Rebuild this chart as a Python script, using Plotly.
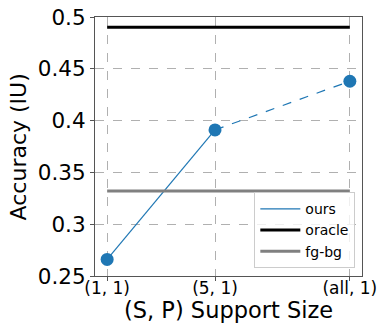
import plotly.graph_objects as go

x_vals = [1, 5, 10]
x_labels = ["(1, 1)", "(5, 1)", "(all, 1)"]
ours = [0.266, 0.391, 0.438]
oracle = 0.490
fgbg = 0.332
y_ticks = [0.25, 0.3, 0.35, 0.4, 0.45, 0.5]
y_labels = ["0.25", "0.3", "0.35", "0.4", "0.45", "0.5"]

blue = "#1f77b4"
fig = go.Figure()
fig.add_trace(go.Scatter(x=x_vals[:2], y=ours[:2], mode="lines", line=dict(color=blue, width=1.2), name="ours"))
fig.add_trace(go.Scatter(x=x_vals[1:], y=ours[1:], mode="lines", line=dict(color=blue, width=1.2, dash="dash"), showlegend=False))
fig.add_trace(go.Scatter(x=[x_vals[0], x_vals[-1]], y=[oracle, oracle], mode="lines", line=dict(color="black", width=3), name="oracle"))
fig.add_trace(go.Scatter(x=[x_vals[0], x_vals[-1]], y=[fgbg, fgbg], mode="lines", line=dict(color="#808080", width=3), name="fg-bg"))
fig.add_trace(go.Scatter(x=x_vals, y=ours, mode="markers", marker=dict(color=blue, size=13), showlegend=False))

fig.update_layout(
    width=380, height=323,
    margin=dict(l=95, r=18, t=17, b=47),
    paper_bgcolor="white", plot_bgcolor="white",
    font=dict(family="DejaVu Sans", color="black"),
    legend=dict(x=0.975, y=0.03, xanchor="right", yanchor="bottom",
                bordercolor="#cccccc", borderwidth=1, bgcolor="rgba(255,255,255,0.8)",
                font=dict(size=14), tracegroupgap=0, itemwidth=40),
    xaxis=dict(range=[0.55, 10.45], tickvals=x_vals, ticktext=x_labels, automargin=False,
               tickfont=dict(size=17), showgrid=True, gridcolor="#b0b0b0", griddash="dash",
               showline=True, mirror=True, linecolor="#555555", linewidth=1.2,
               ticks="outside", ticklen=4, tickcolor="#555555", zeroline=False,
               ticklabelstandoff=-8),
    yaxis=dict(range=[0.25, 0.5], tickvals=y_ticks, ticktext=y_labels, automargin=False,
               tickfont=dict(size=21.5), showgrid=True, gridcolor="#b0b0b0", griddash="dash",
               showline=True, mirror=True, linecolor="#555555", linewidth=1.2,
               ticks="outside", ticklen=4, tickcolor="#555555", zeroline=False),
    annotations=[
        dict(text="(S, P) Support Size", xref="paper", yref="paper", x=0.5, y=-0.132,
             xanchor="center", yanchor="middle", showarrow=False, font=dict(size=22.5)),
        dict(text="Accuracy (IU)", xref="paper", yref="paper", x=-0.285, y=0.5,
             xanchor="center", yanchor="middle", textangle=-90, showarrow=False, font=dict(size=22)),
    ],
)
fig.write_html("out.html", config={"displayModeBar": False},
               post_script="document.body.style.margin='0';")
